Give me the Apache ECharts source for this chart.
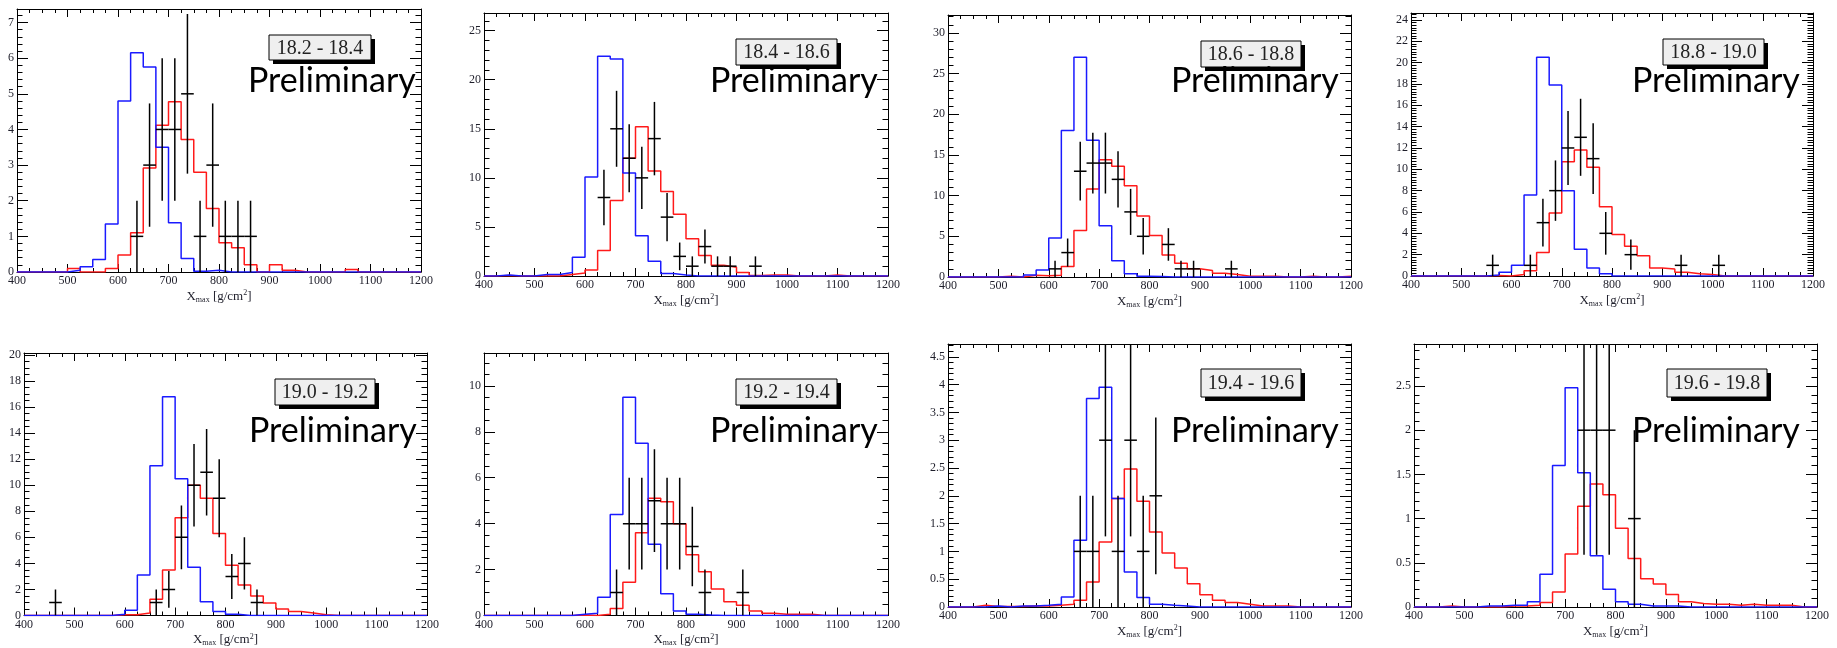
<!DOCTYPE html>
<html><head><meta charset="utf-8">
<script src="https://cdn.jsdelivr.net/npm/echarts@6/dist/echarts.min.js"></script>
<style>html,body{margin:0;padding:0;background:#fff}#c{width:1837px;height:648px}</style>
</head><body><div id="c"></div>
<script>
// ---------------- DATA ----------------
const binEdges = [400,425,450,475,500,525,550,575,600,625,650,675,700,725,750,775,800,825,850,875,900,925,950,975,1000,1025,1050,1075,1100,1125,1150,1175,1200];
const xTickLabels = [400,500,600,700,800,900,1000,1100,1200];
const energyBins = ['18.2 - 18.4','18.4 - 18.6','18.6 - 18.8','18.8 - 19.0','19.0 - 19.2','19.2 - 19.4','19.4 - 19.6','19.6 - 19.8'];

// blue histograms (per 25 g/cm2 bin, 400..1200)
const iron1 = [0,0,0,0,0.05,0.15,0.35,1.35,4.8,6.15,5.75,3.5,1.38,0.38,0.02,0.05,0,0,0,0,0,0,0,0,0,0,0,0,0,0,0,0];
const iron2 = [0,0.1,0,0,0.15,0.15,0.35,1.9,10.1,22.4,22.1,10.5,4.1,1.5,0.25,0.1,0,0,0,0,0,0,0,0,0,0,0,0,0,0,0,0];
const iron3 = [0,0,0,0,0,0,0.25,0.85,4.8,18,27,16.8,6.3,2,0.4,0.1,0.05,0,0,0,0,0,0,0,0,0,0,0,0,0,0,0];
const iron4 = [0,0,0,0,0,0,0.1,0.35,1.0,7.6,20.5,17.9,8,2.5,0.75,0.2,0,0,0,0,0,0,0,0,0,0,0,0,0,0,0,0];
const iron5 = [0,0,0,0,0,0,0,0.1,0.4,3.1,11.5,16.8,10.5,3.7,1.05,0.3,0.1,0,0,0,0,0,0,0,0,0,0,0,0,0,0,0];
const iron6 = [0,0,0,0,0,0,0,0.05,0.1,0.8,4.4,9.5,7.5,3.1,0.95,0.2,0.05,0.02,0,0,0,0,0,0,0,0,0,0,0,0,0,0];
const iron7 = [0,0,0,0.02,0,0.02,0.02,0.03,0.05,0.18,1.2,3.75,3.95,1.95,0.63,0.17,0.05,0.03,0.02,0,0,0,0,0,0,0,0,0,0,0,0,0];
const iron8 = [0,0,0,0,0,0.01,0.01,0.02,0.02,0.06,0.37,1.6,2.48,1.52,0.58,0.2,0.06,0.03,0.01,0.01,0.01,0,0,0,0,0,0,0,0,0,0,0];

// red histograms
const proton1 = [0,0,0,0,0.1,0,0,0.1,0.48,1.1,2.92,4.12,4.78,3.72,2.8,1.78,0.82,0.68,0.2,0,0.2,0.05,0,0,0,0,0.07,0,0,0,0,0];
const proton2 = [0,0.05,0,0,0,0,0.15,0.3,0.6,2.6,7.7,12,15.2,10.7,8.6,6.3,3.8,2.1,1.1,0.9,0.35,0.05,0.1,0.1,0,0,0,0.1,0,0,0,0];
const proton3 = [0,0,0,0,0.1,0,0.2,0.15,0.2,1.3,5.7,10.8,14.4,13.6,11.2,7.5,5.1,2.7,1.7,1.0,0.8,0.45,0.3,0.1,0.1,0.1,0,0,0.1,0,0,0.1];
const proton4 = [0,0,0,0,0,0,0.05,0,0.15,0.5,2.2,5.9,10.7,11.8,10.2,6.5,3.9,2.8,1.9,0.75,0.65,0.35,0.2,0.15,0,0,0,0,0,0,0,0];
const proton5 = [0,0,0,0,0,0,0,0.05,0.05,0.2,1.25,3.5,7.5,10,9,6.3,3.85,2.35,1.5,0.95,0.5,0.3,0.2,0.05,0,0,0,0,0,0,0,0];
const proton6 = [0,0,0,0,0,0,0,0.02,0,0.05,0.3,1.45,3.6,5.1,4.95,4.0,2.65,1.9,1.15,0.6,0.45,0.2,0.1,0.05,0.05,0.05,0,0,0,0,0,0];
const proton7 = [0,0,0.03,0.01,0.01,0.01,0.02,0.02,0.03,0.05,0.12,0.45,1.17,1.95,2.48,1.9,1.35,0.97,0.7,0.42,0.22,0.12,0.08,0.05,0.02,0.02,0.02,0,0,0,0,0];
const proton8 = [0,0,0.01,0,0,0,0,0.01,0.01,0.02,0.05,0.17,0.6,1.14,1.39,1.27,0.89,0.55,0.32,0.26,0.14,0.06,0.04,0.03,0.03,0.02,0.03,0.02,0.02,0.02,0,0];

// black data points: bin centre, counts, error
const dataX1 = [637.5,662.5,687.5,712.5,737.5,762.5,787.5,812.5,837.5,862.5];
const dataY1 = [1,3,4,4,5,1,3,1,1,1];
const dataE1 = [1,1.73,2,2,2.24,1,1.73,1,1,1];
const dataX2 = [637.5,662.5,687.5,712.5,737.5,762.5,787.5,812.5,837.5,862.5,887.5,937.5];
const dataY2 = [8,15,12,10,14,6,2,1,3,1,1,1];
const dataE2 = [2.83,3.87,3.46,3.16,3.74,2.45,1.41,1,1.73,1,1,1];
const dataX3 = [612.5,637.5,662.5,687.5,712.5,737.5,762.5,787.5,837.5,862.5,887.5,962.5];
const dataY3 = [1,3,13,14,14,12,8,5,4,1,1,1];
const dataE3 = [1,1.73,3.61,3.74,3.74,3.46,2.83,2.24,2,1,1,1];
const dataX4 = [562.5,637.5,662.5,687.5,712.5,737.5,762.5,787.5,837.5,937.5,1012.5];
const dataY4 = [1,1,5,8,12,13,11,4,2,1,1];
const dataE4 = [1,1,2.24,2.83,3.46,3.61,3.32,2,1.41,1,1];
const dataX5 = [462.5,662.5,687.5,712.5,737.5,762.5,787.5,812.5,837.5,862.5];
const dataY5 = [1,1,2,6,10,11,9,3,4,1];
const dataE5 = [1,1,1.41,2.45,3.16,3.32,3,1.73,2,1];
const dataX6 = [662.5,687.5,712.5,737.5,762.5,787.5,812.5,837.5,912.5];
const dataY6 = [1,4,4,5,4,4,3,1,1];
const dataE6 = [1,2,2,2.24,2,2,1.73,1,1];
const dataX7 = [662.5,687.5,712.5,737.5,762.5,787.5,812.5];
const dataY7 = [1,1,3,1,3,1,2];
const dataE7 = [1,1,1.73,1,1.73,1,1.41];
const dataX8 = [737.5,762.5,787.5,837.5];
const dataY8 = [2,2,2,1];
const dataE8 = [1.41,1.41,1.41,1];

// y axis ranges and tick labels
const yMax = [7.38, 26.8, 32.2, 24.65, 20.15, 11.43, 4.73, 2.975];
const yTicks1 = [0,1,2,3,4,5,6,7];
const yTicks2 = [0,5,10,15,20,25];
const yTicks3 = [0,5,10,15,20,25,30];
const yTicks4 = [0,2,4,6,8,10,12,14,16,18,20,22,24];
const yTicks5 = [0,2,4,6,8,10,12,14,16,18,20];
const yTicks6 = [0,2,4,6,8,10];
const yTicks7 = [0,0.5,1,1.5,2,2.5,3,3.5,4,4.5];
const yTicks8 = [0,0.5,1,1.5,2,2.5];
const yMinorStep = [0.2, 1, 1, 0.25, 0.5, 0.5, 0.1, 0.1];
const HALF_BIN = 12.5;

const ironAll = [iron1,iron2,iron3,iron4,iron5,iron6,iron7,iron8];
const protonAll = [proton1,proton2,proton3,proton4,proton5,proton6,proton7,proton8];
const dataXAll = [dataX1,dataX2,dataX3,dataX4,dataX5,dataX6,dataX7,dataX8];
const dataYAll = [dataY1,dataY2,dataY3,dataY4,dataY5,dataY6,dataY7,dataY8];
const dataEAll = [dataE1,dataE2,dataE3,dataE4,dataE5,dataE6,dataE7,dataE8];
const yTicksAll = [yTicks1,yTicks2,yTicks3,yTicks4,yTicks5,yTicks6,yTicks7,yTicks8];

// ---------------- LAYOUT ----------------
const layout = [
  {left:17, top:9, width:404, height:263},
  {left:484, top:13, width:404, height:263},
  {left:948, top:15, width:403, height:262},
  {left:1411, top:13, width:402, height:263},
  {left:24, top:353, width:403, height:263},
  {left:484, top:353, width:404, height:263},
  {left:948, top:344, width:403, height:263},
  {left:1414, top:344, width:403, height:263}
];
const boxPos = [[269,35,102,25],[736,39,101,26],[1201,41,100,26],[1663,39,101,26],[275,379,100,26],[736,379,101,26],[1201,369,100,28],[1667,369,100,28]];
const prelimPos = [[248,93],[710,93],[1171,93],[1632,93],[249,443],[710,443],[1171,443],[1632,443]];

const SERIF = '"Liberation Serif", "Times New Roman", serif';
const LABEL_COLOR = '#1e1e2a';
const plain = v => String(v);

const grids = [], xAxes = [], yAxes = [], series = [], graphics = [];

function minorVals(max, step) {
  const out = [];
  for (let i = 0; i * step <= max + 1e-9; i++) out.push(+(i * step).toFixed(4));
  return out;
}

for (let p = 0; p < 8; p++) {
  grids.push(Object.assign({containLabel:false}, layout[p]));
  const xBase = {
    gridIndex:p, type:'value', min:400, max:1200, interval:100,
    axisLine:{show:true, onZero:false, lineStyle:{color:'#000', width:1}},
    axisTick:{show:true, inside:true, length:8, lineStyle:{color:'#000', width:1}},
    minorTick:{show:true, splitNumber:4, length:4, lineStyle:{color:'#000', width:1}},
    splitLine:{show:false}, minorSplitLine:{show:false}
  };
  xAxes.push(Object.assign({}, xBase, {
    position:'bottom',
    axisLabel:{show:true, customValues:xTickLabels, formatter:plain, margin:3, fontFamily:SERIF, fontSize:12, color:LABEL_COLOR},
    name:'X{s|max} [g/cm{p|2}]', nameLocation:'middle', nameGap:17,
    nameTextStyle:{fontFamily:SERIF, fontSize:13, color:LABEL_COLOR,
      rich:{s:{fontFamily:SERIF, fontSize:8, color:LABEL_COLOR, padding:[6,0,0,0]},
            p:{fontFamily:SERIF, fontSize:8, color:LABEL_COLOR, padding:[0,0,7,0]}}}
  }));
  xAxes.push(Object.assign({}, xBase, {position:'top', axisLabel:{show:false}}));

  const ymax = yMax[p];
  const mv = minorVals(ymax, yMinorStep[p]);
  const yBase = {gridIndex:p, type:'value', min:0, max:ymax, splitLine:{show:false}};
  yAxes.push(Object.assign({}, yBase, {
    position:'left',
    axisLine:{show:true, onZero:false, lineStyle:{color:'#000', width:1}},
    axisTick:{show:true, inside:true, length:11, customValues:yTicksAll[p], lineStyle:{color:'#000', width:1}},
    axisLabel:{show:true, customValues:yTicksAll[p], formatter:plain, margin:3, fontFamily:SERIF, fontSize:12, color:LABEL_COLOR}
  }));
  yAxes.push(Object.assign({}, yBase, {
    position:'left', axisLine:{show:false},
    axisTick:{show:true, inside:true, length:5.5, customValues:mv, lineStyle:{color:'#000', width:1}},
    axisLabel:{show:false}
  }));
  yAxes.push(Object.assign({}, yBase, {
    position:'right',
    axisLine:{show:true, onZero:false, lineStyle:{color:'#000', width:1}},
    axisTick:{show:true, inside:true, length:11, customValues:yTicksAll[p], lineStyle:{color:'#000', width:1}},
    axisLabel:{show:false}
  }));
  yAxes.push(Object.assign({}, yBase, {
    position:'right', axisLine:{show:false},
    axisTick:{show:true, inside:true, length:5.5, customValues:mv, lineStyle:{color:'#000', width:1}},
    axisLabel:{show:false}
  }));

  const stepData = h => binEdges.map((e, i) => [e, h[Math.min(i, h.length - 1)]]);
  series.push({
    type:'line', xAxisIndex:2*p, yAxisIndex:4*p, data:stepData(protonAll[p]), step:'end',
    symbol:'none', lineStyle:{color:'#ff1a1a', width:1.5}, animation:false, silent:true, clip:true, z:3
  });
  series.push({
    type:'line', xAxisIndex:2*p, yAxisIndex:4*p, data:stepData(ironAll[p]), step:'end',
    symbol:'none', lineStyle:{color:'#1a1aff', width:1.5}, animation:false, silent:true, clip:true, z:4
  });
  series.push({
    type:'custom', xAxisIndex:2*p, yAxisIndex:4*p, clip:true, silent:true, animation:false, z:5,
    data: dataXAll[p].map((x, i) => [x, dataYAll[p][i], dataEAll[p][i]]),
    encode:{x:0, y:1},
    renderItem(params, api) {
      const x = api.value(0), y = api.value(1), e = api.value(2);
      const lo = api.coord([x, Math.max(0, y - e)]), hi = api.coord([x, y + e]);
      const l = api.coord([x - HALF_BIN, y]), r = api.coord([x + HALF_BIN, y]);
      const st = {stroke:'#000', lineWidth:1.5};
      return {type:'group', children:[
        {type:'line', shape:{x1:lo[0], y1:lo[1], x2:hi[0], y2:hi[1]}, style:st},
        {type:'line', shape:{x1:l[0], y1:l[1], x2:r[0], y2:r[1]}, style:st}
      ]};
    }
  });

  const b = boxPos[p];
  graphics.push({type:'rect', shape:{x:b[0]+4, y:b[1]+4, width:b[2], height:b[3]}, style:{fill:'#000'}, z:10});
  graphics.push({type:'rect', shape:{x:b[0], y:b[1], width:b[2], height:b[3]}, style:{fill:'#efefef', stroke:'#000', lineWidth:1}, z:11});
  graphics.push({type:'text', x:b[0] + b[2]/2, y:b[1] + b[3]/2 + 1, z:12,
    style:{text:energyBins[p], font:'20px "Liberation Serif"', fill:'#222', align:'center', verticalAlign:'middle'}});
  const pr = prelimPos[p];
  graphics.push({type:'text', x:pr[0], y:pr[1] - 12, z:12,
    style:{text:'Preliminary', font:'34px Lato', fill:'#000', align:'left', verticalAlign:'middle'}});
}

const chart = echarts.init(document.getElementById('c'), null, {renderer:'canvas'});
chart.setOption({
  animation:false,
  backgroundColor:'#fff',
  grid:grids, xAxis:xAxes, yAxis:yAxes, series:series, graphic:graphics
});
</script></body></html>
